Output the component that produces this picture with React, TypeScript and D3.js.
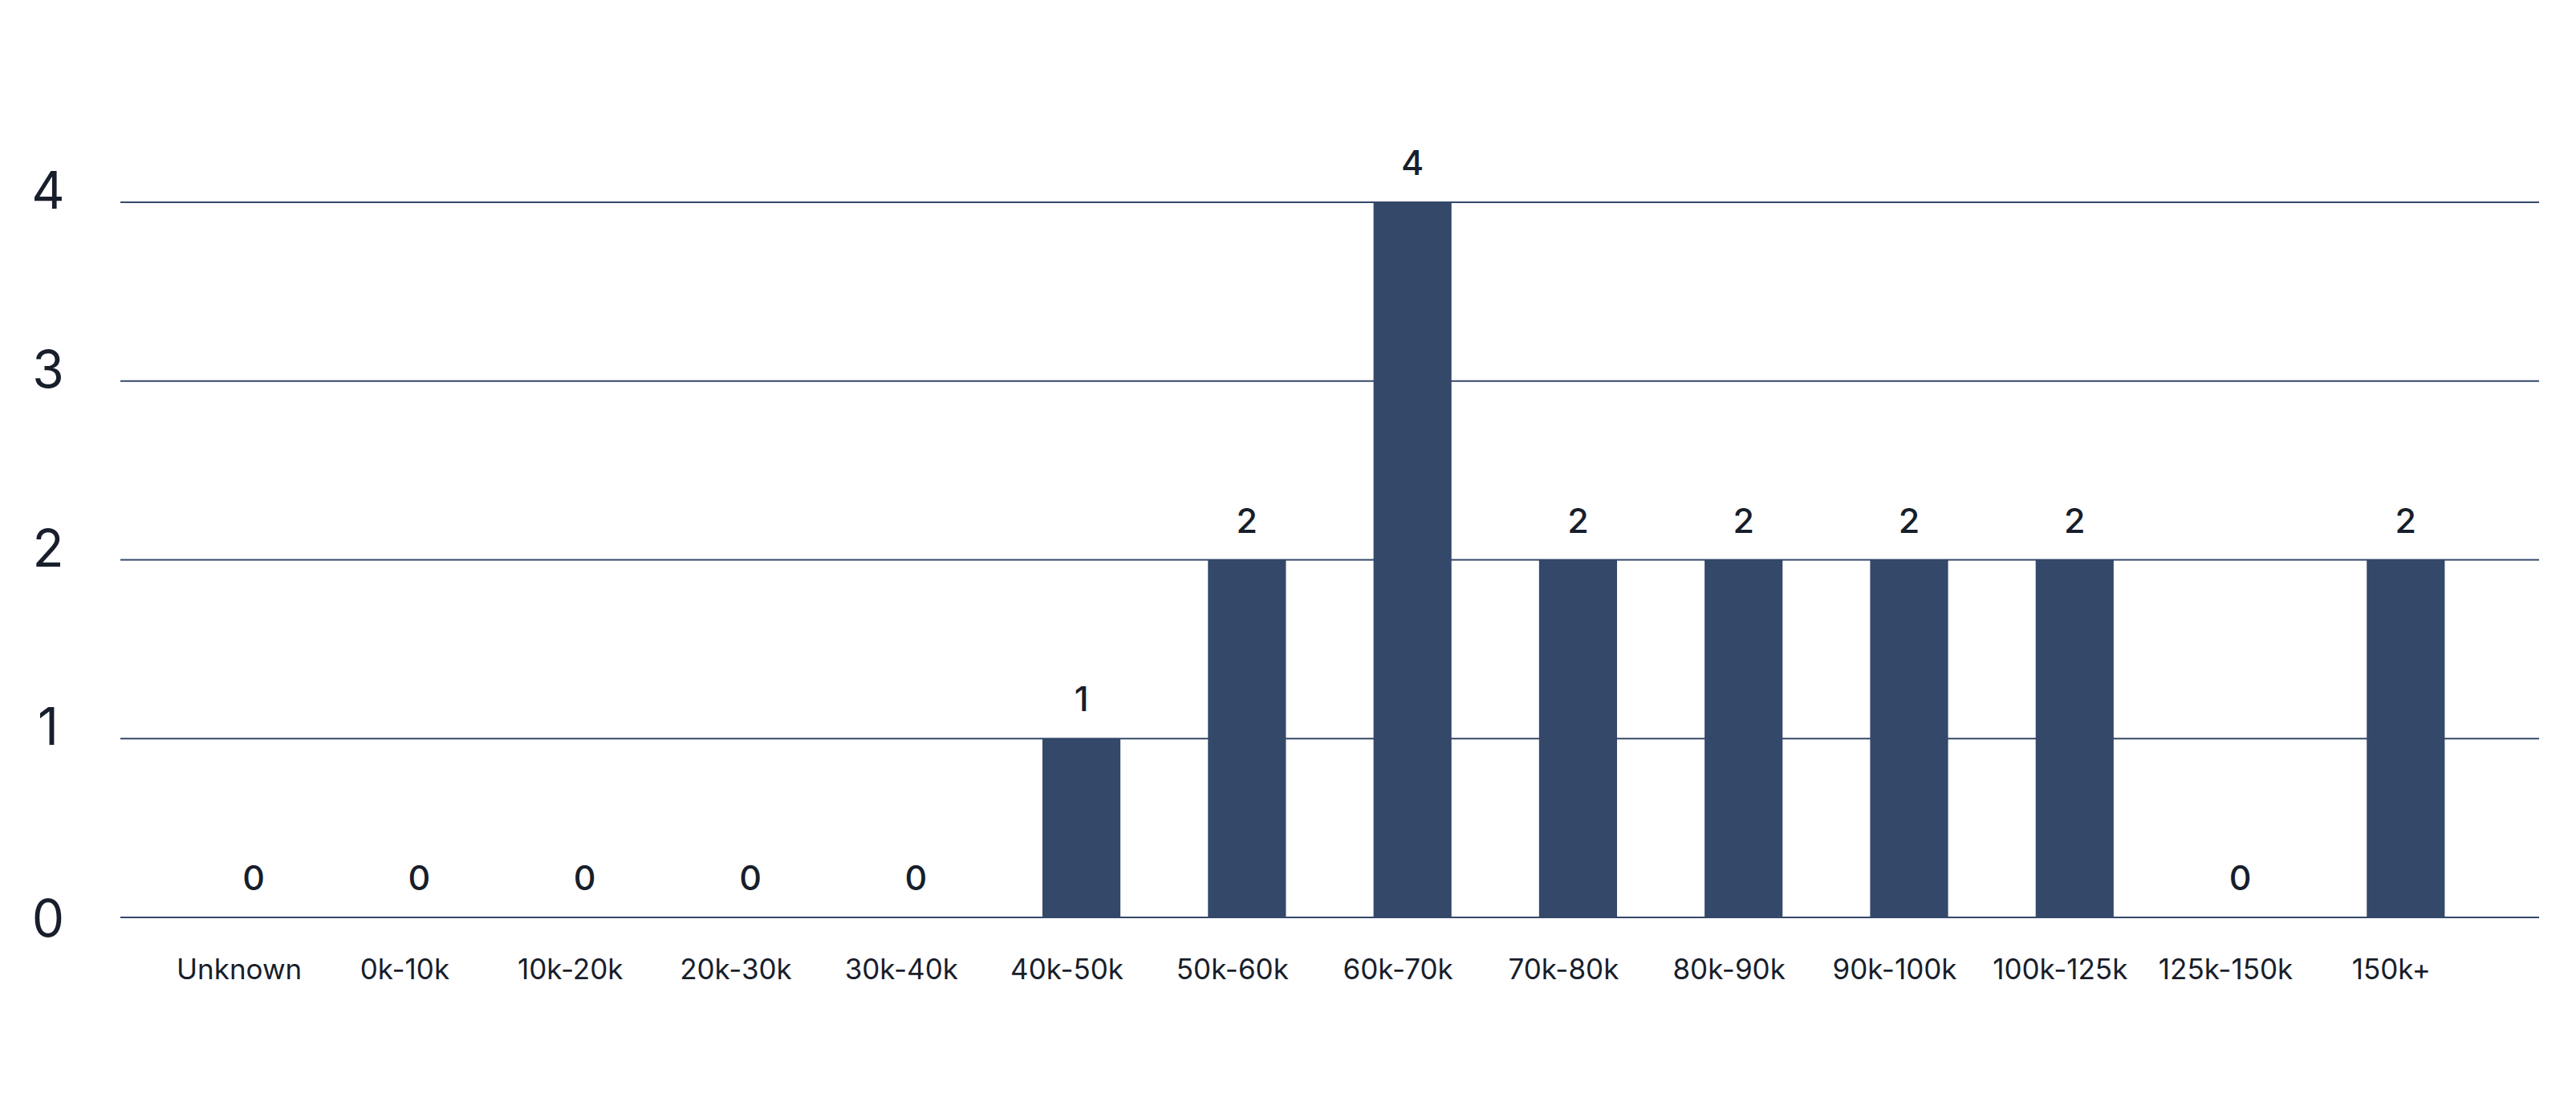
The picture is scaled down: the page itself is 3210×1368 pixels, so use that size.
import React from "react";
import * as d3 from "d3";

const categories = [
  "Unknown",
  "0k-10k",
  "10k-20k",
  "20k-30k",
  "30k-40k",
  "40k-50k",
  "50k-60k",
  "60k-70k",
  "70k-80k",
  "80k-90k",
  "90k-100k",
  "100k-125k",
  "125k-150k",
  "150k+",
];
const values = [0, 0, 0, 0, 0, 1, 2, 4, 2, 2, 2, 2, 0, 2];
const yTicks = [0, 1, 2, 3, 4];

const W = 3210;
const H = 1368;
const plotLeft = 150;
const plotRight = 3164;
const plotTop = 252;
const plotBottom = 1143;
const barColor = "#344869";
const gridColor = "#344869";
const textColor = "#181e2b";
const font = "Inter, 'Noto Sans', sans-serif";

export default function App() {
  const x = d3
    .scaleBand<string>()
    .domain(categories)
    .range([plotLeft, plotRight])
    .paddingInner(0.529)
    .paddingOuter(0.57);
  const y = d3.scaleLinear().domain([0, 4]).range([plotBottom, plotTop]);
  const bw = x.bandwidth();

  return (
    <>
      <style>{`body{margin:0;}`}</style>
      <svg width={W} height={H} viewBox={`0 0 ${W} ${H}`} style={{ display: "block", background: "#fff" }}>
        {/* gridlines */}
        {yTicks.map((t) => (
          <line
            key={`g${t}`}
            x1={plotLeft}
            x2={plotRight}
            y1={y(t)}
            y2={y(t)}
            stroke={gridColor}
            strokeWidth={2}
          />
        ))}
        {/* y tick labels */}
        {yTicks.map((t) => (
          <text
            key={`yt${t}`}
            x={60}
            y={y(t) + (t === 0 ? 24 : 8)}
            textAnchor="middle"
            fontFamily={font}
            fontSize={64}
            fill={textColor}
          >
            {t}
          </text>
        ))}
        {/* bars */}
        {categories.map((c, i) =>
          values[i] > 0 ? (
            <rect
              key={`b${c}`}
              x={x(c)}
              y={y(values[i])}
              width={bw}
              height={y(0) - y(values[i])}
              fill={barColor}
            />
          ) : null
        )}
        {/* value labels */}
        {categories.map((c, i) => (
          <text
            key={`v${c}`}
            x={(x(c) as number) + bw / 2}
            y={y(values[i]) - 34}
            textAnchor="middle"
            fontFamily={font}
            fontWeight={500}
            fontSize={43}
            fill={textColor}
          >
            {values[i]}
          </text>
        ))}
        {/* category labels */}
        {categories.map((c) => (
          <text
            key={`c${c}`}
            x={(x(c) as number) + bw / 2 - 18}
            y={plotBottom + 77}
            textAnchor="middle"
            fontFamily={font}
            fontSize={35}
            fill={textColor}
          >
            {c}
          </text>
        ))}
      </svg>
    </>
  );
}
